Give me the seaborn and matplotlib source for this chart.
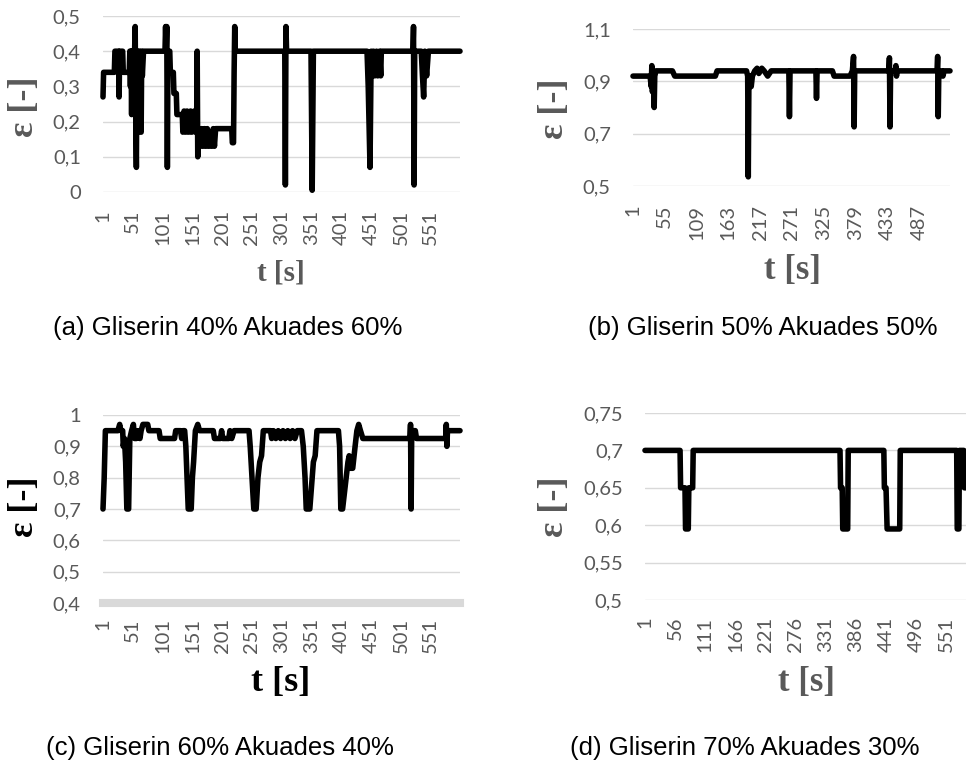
import matplotlib
matplotlib.use('Agg')
import matplotlib.pyplot as plt
import seaborn as sns

# ---- data (t in s, eps in -) ----
a_t = [1, 2, 20, 21, 27, 28, 29, 34, 35, 45, 46, 47, 48, 49, 50, 52, 54, 55, 56, 57,
       58, 59, 60, 61, 63, 64, 65, 66, 67, 69, 105, 106, 107, 108, 109, 110, 113, 114,
       119, 120, 124, 125, 134, 135, 137, 140, 142, 145, 148, 150, 154, 156, 158, 159,
       160, 161, 163, 166, 168, 171, 173, 176, 178, 181, 183, 186, 188, 190, 217, 218,
       220, 221, 222, 223, 306, 307, 308, 309, 350, 352, 354, 444, 446, 449, 451, 453,
       455, 457, 460, 462, 465, 467, 468, 521, 522, 523, 524, 535, 537, 539, 541, 544,
       547, 600]
a_eps = [0.27, 0.34, 0.34, 0.40, 0.40, 0.27, 0.40, 0.40, 0.34, 0.34, 0.40, 0.30, 0.40,
         0.22, 0.40, 0.25, 0.40, 0.47, 0.20, 0.07, 0.40, 0.18, 0.40, 0.30, 0.40, 0.17,
         0.17, 0.40, 0.33, 0.40, 0.40, 0.47, 0.40, 0.47, 0.07, 0.40, 0.40, 0.34, 0.34,
         0.28, 0.28, 0.22, 0.22, 0.17, 0.23, 0.17, 0.23, 0.17, 0.23, 0.17, 0.23, 0.17,
         0.17, 0.40, 0.10, 0.18, 0.13, 0.18, 0.13, 0.18, 0.13, 0.18, 0.13, 0.17, 0.13,
         0.18, 0.13, 0.18, 0.18, 0.14, 0.14, 0.34, 0.47, 0.40, 0.40, 0.02, 0.47, 0.40,
         0.40, 0.005, 0.40, 0.40, 0.30, 0.07, 0.40, 0.33, 0.40, 0.33, 0.40, 0.33, 0.40,
         0.33, 0.40, 0.40, 0.47, 0.02, 0.40, 0.40, 0.33, 0.27, 0.40, 0.33, 0.40, 0.40]

b_t = [1, 30, 32, 33, 34, 36, 37, 38, 40, 68, 72, 141, 144, 194, 196, 197, 198, 200,
       202, 204, 208, 212, 215, 220, 224, 230, 236, 266, 267, 268, 312, 313, 314, 340,
       343, 370, 374, 376, 377, 378, 436, 437, 438, 439, 447, 448, 449, 450, 518, 519,
       520, 521, 526, 528, 530, 540]
b_eps = [0.92, 0.92, 0.88, 0.96, 0.86, 0.92, 0.80, 0.92, 0.94, 0.94, 0.92, 0.92, 0.94,
         0.94, 0.92, 0.535, 0.88, 0.92, 0.88, 0.92, 0.94, 0.95, 0.93, 0.95, 0.94, 0.92,
         0.94, 0.94, 0.765, 0.94, 0.94, 0.835, 0.94, 0.94, 0.92, 0.92, 0.94, 0.995,
         0.726, 0.94, 0.94, 0.99, 0.726, 0.94, 0.94, 0.96, 0.92, 0.94, 0.94, 0.995,
         0.765, 0.94, 0.94, 0.92, 0.94, 0.94]

c_t = [1, 3, 5, 26, 29, 31, 34, 35, 37, 39, 41, 44, 46, 49, 52, 54, 57, 59, 63, 65, 68,
       76, 78, 95, 97, 121, 123, 131, 133, 135, 138, 140, 142, 144, 149, 151, 153, 156,
       160, 163, 186, 188, 198, 200, 202, 212, 214, 217, 221, 246, 248, 251, 254, 258,
       261, 264, 267, 270, 282, 284, 287, 291, 295, 299, 303, 307, 311, 315, 319, 323,
       327, 334, 337, 340, 342, 348, 350, 352, 354, 357, 360, 396, 398, 400, 403, 406,
       409, 412, 414, 416, 420, 424, 427, 430, 433, 437, 516, 517, 518, 519, 525, 527,
       576, 577, 578, 579, 600]
c_eps = [0.70, 0.80, 0.95, 0.95, 0.97, 0.95, 0.95, 0.90, 0.925, 0.85, 0.70, 0.70, 0.925,
         0.95, 0.97, 0.925, 0.925, 0.95, 0.925, 0.95, 0.97, 0.97, 0.95, 0.95, 0.925,
         0.925, 0.95, 0.95, 0.925, 0.95, 0.95, 0.90, 0.80, 0.70, 0.70, 0.80, 0.85, 0.95,
         0.97, 0.95, 0.95, 0.925, 0.925, 0.95, 0.925, 0.925, 0.95, 0.925, 0.95, 0.95,
         0.90, 0.80, 0.70, 0.70, 0.80, 0.85, 0.87, 0.95, 0.95, 0.925, 0.95, 0.925, 0.95,
         0.925, 0.95, 0.925, 0.95, 0.925, 0.95, 0.925, 0.95, 0.95, 0.90, 0.80, 0.70,
         0.70, 0.75, 0.80, 0.85, 0.87, 0.95, 0.95, 0.90, 0.70, 0.70, 0.75, 0.80, 0.85,
         0.87, 0.83, 0.83, 0.90, 0.95, 0.97, 0.95, 0.925, 0.925, 0.97, 0.70, 0.95, 0.95,
         0.925, 0.925, 0.97, 0.90, 0.95, 0.95]

d_t = [1, 65, 66, 74, 75, 80, 81, 88, 89, 357, 358, 361, 362, 371, 372, 437, 438, 441,
       443, 466, 467, 570, 571, 574, 575, 583, 584, 587]
d_eps = [0.70, 0.70, 0.65, 0.65, 0.595, 0.595, 0.65, 0.65, 0.70, 0.70, 0.65, 0.65,
         0.595, 0.595, 0.70, 0.70, 0.65, 0.65, 0.595, 0.595, 0.70, 0.70, 0.595, 0.595,
         0.70, 0.70, 0.65, 0.65]

a_xticks = [1, 51, 101, 151, 201, 251, 301, 351, 401, 451, 501, 551]
b_xticks = [1, 55, 109, 163, 217, 271, 325, 379, 433, 487]
c_xticks = [1, 51, 101, 151, 201, 251, 301, 351, 401, 451, 501, 551]
d_xticks = [1, 56, 111, 166, 221, 276, 331, 386, 441, 496, 551]

a_yticks = [0, 0.1, 0.2, 0.3, 0.4, 0.5]
a_ylabels = ['0', '0,1', '0,2', '0,3', '0,4', '0,5']
b_yticks = [0.5, 0.7, 0.9, 1.1]
b_ylabels = ['0,5', '0,7', '0,9', '1,1']
c_yticks = [0.4, 0.5, 0.6, 0.7, 0.8, 0.9, 1.0]
c_ylabels = ['0,4', '0,5', '0,6', '0,7', '0,8', '0,9', '1']
d_yticks = [0.5, 0.55, 0.6, 0.65, 0.7, 0.75]
d_ylabels = ['0,5', '0,55', '0,6', '0,65', '0,7', '0,75']

captions = ['(a) Gliserin 40% Akuades 60%', '(b) Gliserin 50% Akuades 50%',
            '(c) Gliserin 60% Akuades 40%', '(d) Gliserin 70% Akuades 30%']

sns.set_style('white')
plt.rcParams['font.family'] = ['Lato', 'DejaVu Sans']

W, H = 966, 769
GRAY = '#595959'
GRID = '#D9D9D9'

fig = plt.figure(figsize=(W / 100, H / 100), dpi=100)


def px_axes(left, top, right, bottom):
    return fig.add_axes([left / W, 1 - bottom / H, (right - left) / W, (bottom - top) / H])


def draw(ax, t, eps, xticks, xlim, yticks, ylabels, xpad):
    sns.lineplot(x=t, y=eps, ax=ax, color='black', linewidth=4.0)
    line = ax.lines[-1]
    line.set_solid_joinstyle('round')
    line.set_solid_capstyle('round')
    line.set_clip_on(False)
    ax.set_xlim(*xlim)
    ax.set_ylim(yticks[0], yticks[-1])
    ax.set_xticks(xticks)
    ax.set_xticklabels([str(v) for v in xticks], rotation=90)
    ax.set_yticks(yticks)
    ax.set_yticklabels(ylabels)
    ax.tick_params(axis='x', length=0, pad=xpad, labelsize=14.5, labelcolor=GRAY)
    ax.tick_params(axis='y', length=0, pad=16, labelsize=14.5, labelcolor=GRAY)
    ax.set_axisbelow(True)
    ax.yaxis.grid(True, color=GRID, linewidth=1.0)
    ax.xaxis.grid(False)
    for s in ax.spines.values():
        s.set_visible(False)
    ax.set_xlabel('')
    ax.set_ylabel('')


ax_a = px_axes(103, 16, 460, 192)
draw(ax_a, a_t, a_eps, a_xticks, (1, 600), a_yticks, a_ylabels, 13)

ax_b = px_axes(633, 29, 950, 186)
draw(ax_b, b_t, b_eps, b_xticks, (1, 540), b_yticks, b_ylabels, 13.5)

ax_c = px_axes(103, 415, 460, 603)
draw(ax_c, c_t, c_eps, c_xticks, (1, 600), c_yticks, c_ylabels, 11)
ax_c.spines['bottom'].set_visible(True)
ax_c.spines['bottom'].set_color(GRID)
ax_c.spines['bottom'].set_linewidth(5.8)

ax_d = px_axes(645, 413, 966, 600)
draw(ax_d, d_t, d_eps, d_xticks, (1, 587), d_yticks, d_ylabels, 12)


def ftext(x, y, s, **kw):
    fig.text(x / W, 1 - y / H, s, ha='center', va='center', **kw)


serif = dict(family='Liberation Serif', weight='bold')
# y labels
ftext(24, 107, 'ε [-]', rotation=90, size=26, color=GRAY, **serif)
ftext(554, 109, 'ε [-]', rotation=90, size=26, color=GRAY, **serif)
ftext(24, 507, 'ε [-]', rotation=90, size=26, color='black', **serif)
ftext(554, 507, 'ε [-]', rotation=90, size=26, color=GRAY, **serif)
# x labels
ftext(281, 273, 't [s]', size=21, color=GRAY, **serif)
ftext(792, 271, 't [s]', size=25, color=GRAY, **serif)
ftext(281, 682, 't [s]', size=26, color='black', **serif)
ftext(807, 682, 't [s]', size=25, color=GRAY, **serif)
# captions
cap = dict(family='Liberation Sans', size=18.5, color='black')
ftext(228, 328, captions[0], **cap)
ftext(763, 328, captions[1], **cap)
ftext(220, 748, captions[2], **cap)
ftext(745, 748, captions[3], **cap)

fig.savefig('out.png', dpi=100)
